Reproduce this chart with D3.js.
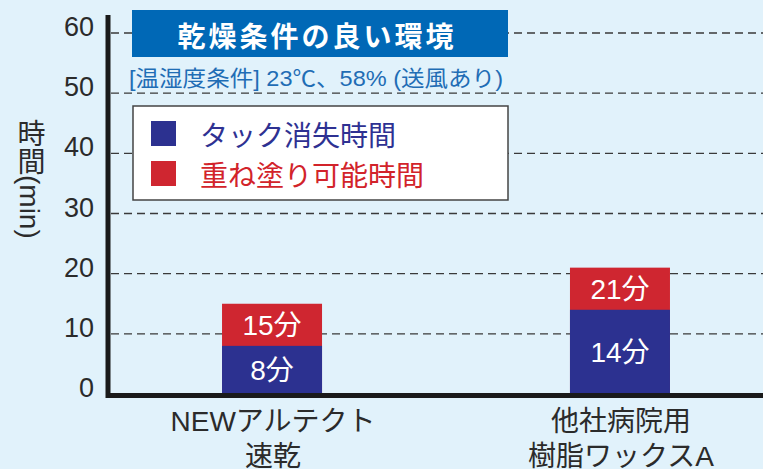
<!DOCTYPE html>
<html>
<head>
<meta charset="utf-8">
<script src="https://cdn.jsdelivr.net/npm/d3@7"></script>
<style>
  body { margin: 0; background: #e1f2fb; }
  svg { display: block; }
  text { font-family: "Liberation Sans", "Noto Sans CJK JP", sans-serif; }
</style>
</head>
<body>
<div id="canvas"></div>
<script>
// DATA
const categories = ["NEWアルテクト速乾", "他社病院用樹脂ワックスA"];
const categoryLines = [["NEWアルテクト", "速乾"], ["他社病院用", "樹脂ワックスA"]];
const tackFree = [8, 14];     // タック消失時間
const recoat = [15, 21];      // 重ね塗り可能時間
const yTicks = [0, 10, 20, 30, 40, 50, 60];

// DIMENSIONS
const width = 763;
const height = 469;

const svg = d3.select("#canvas")
  .append("svg")
  .attr("width", width)
  .attr("height", height)
  .style("background", "#e1f2fb");

// SCALES
const y = d3.scaleLinear().domain([0, 60]).range([394, 33]);
const x = d3.scaleBand()
  .domain(categories)
  .range([118, 774])
  .paddingInner(0.7126)
  .paddingOuter(0.299);

// GRIDLINES
svg.append("g")
  .selectAll("line")
  .data(yTicks.filter(d => d > 0))
  .join("line")
  .attr("x1", 111)
  .attr("x2", width)
  .attr("y1", d => y(d))
  .attr("y2", d => y(d))
  .attr("stroke", "#3a3a3a")
  .attr("stroke-width", 1.4)
  .attr("stroke-dasharray", "8,5");

// TICK LABELS
svg.append("g")
  .selectAll("text")
  .data(yTicks)
  .join("text")
  .attr("x", 94)
  .attr("y", d => y(d) - 6)
  .attr("text-anchor", "end")
  .attr("dominant-baseline", "central")
  .style("font-size", "27px")
  .style("fill", "#2b2b2b")
  .text(d => d);

// Y TITLE
svg.append("text")
  .attr("x", 29)
  .attr("y", 119)
  .style("writing-mode", "vertical-rl")
  .style("font-size", "28px")
  .style("fill", "#2b2b2b")
  .text("時間(min)");

// BARS (red behind, blue in front)
const bars = svg.append("g");
bars.selectAll(".red")
  .data(categories)
  .join("rect")
  .attr("class", "red")
  .attr("x", d => x(d))
  .attr("width", x.bandwidth())
  .attr("y", (d, i) => y(recoat[i]))
  .attr("height", (d, i) => y(0) - y(recoat[i]))
  .attr("fill", "#cf2630");

bars.selectAll(".blue")
  .data(categories)
  .join("rect")
  .attr("class", "blue")
  .attr("x", d => x(d))
  .attr("width", x.bandwidth())
  .attr("y", (d, i) => y(tackFree[i]))
  .attr("height", (d, i) => y(0) - y(tackFree[i]))
  .attr("fill", "#2c3190");

// BAR LABELS
bars.selectAll(".redlab")
  .data(categories)
  .join("text")
  .attr("x", d => x(d) + x.bandwidth() / 2)
  .attr("y", (d, i) => (y(recoat[i]) + y(tackFree[i])) / 2 + 1)
  .attr("text-anchor", "middle")
  .attr("dominant-baseline", "central")
  .style("font-size", "28px")
  .style("fill", "#fff")
  .text((d, i) => recoat[i] + "分");

bars.selectAll(".bluelab")
  .data(categories)
  .join("text")
  .attr("x", d => x(d) + x.bandwidth() / 2)
  .attr("y", (d, i) => (y(tackFree[i]) + y(0)) / 2 + 1)
  .attr("text-anchor", "middle")
  .attr("dominant-baseline", "central")
  .style("font-size", "28px")
  .style("fill", "#fff")
  .text((d, i) => tackFree[i] + "分");

// AXES
svg.append("line")
  .attr("x1", 108).attr("x2", 108)
  .attr("y1", 15).attr("y2", 398)
  .attr("stroke", "#1a1a1a").attr("stroke-width", 5);
svg.append("line")
  .attr("x1", 106).attr("x2", width)
  .attr("y1", 395.5).attr("y2", 395.5)
  .attr("stroke", "#1a1a1a").attr("stroke-width", 5);

// X LABELS
const xl = svg.append("g")
  .selectAll("text")
  .data(categories)
  .join("text")
  .attr("text-anchor", "middle")
  .style("font-size", "28px")
  .style("fill", "#2b2b2b");
xl.selectAll("tspan")
  .data((d, i) => categoryLines[i].map(t => ({ t, c: d })))
  .join("tspan")
  .attr("x", d => x(d.c) + x.bandwidth() / 2 + 1)
  .attr("y", (d, j) => 421 + j * 35)
  .attr("dominant-baseline", "central")
  .text(d => d.t);

// TITLE BOX
svg.append("rect")
  .attr("x", 132).attr("y", 10)
  .attr("width", 376).attr("height", 47)
  .attr("fill", "#0068b6");
svg.append("text")
  .attr("x", 317).attr("y", 35)
  .attr("text-anchor", "middle")
  .attr("dominant-baseline", "central")
  .style("font-family", "'Noto Sans CJK JP', sans-serif")
  .style("font-size", "28px")
  .style("font-weight", "bold")
  .style("letter-spacing", "3px")
  .style("fill", "#fff")
  .text("乾燥条件の良い環境");

svg.append("text")
  .attr("x", 129).attr("y", 78)
  .attr("dominant-baseline", "central")
  .attr("textLength", 374)
  .attr("lengthAdjust", "spacingAndGlyphs")
  .style("font-size", "22px")
  .style("fill", "#1f6db5")
  .text("[温湿度条件] 23℃、58% (送風あり)");

// LEGEND
const legendItems = [
  { label: "タック消失時間", color: "#2c3190", text: "#2e3192" },
  { label: "重ね塗り可能時間", color: "#cf2630", text: "#d2232a" }
];
const legend = svg.append("g");
legend.append("rect")
  .attr("x", 133).attr("y", 106)
  .attr("width", 375).attr("height", 94)
  .attr("fill", "#fff")
  .attr("stroke", "#444")
  .attr("stroke-width", 1.5);
const li = legend.selectAll("g")
  .data(legendItems)
  .join("g")
  .attr("transform", (d, i) => `translate(0,${i * 40})`);
li.append("rect")
  .attr("x", 151).attr("y", 121)
  .attr("width", 25).attr("height", 25)
  .attr("fill", d => d.color);
li.append("text")
  .attr("x", 200).attr("y", 134)
  .attr("dominant-baseline", "central")
  .style("font-family", "'Noto Sans CJK JP', sans-serif")
  .style("font-size", "28px")
  .style("fill", d => d.text)
  .text(d => d.label);
</script>
</body>
</html>
